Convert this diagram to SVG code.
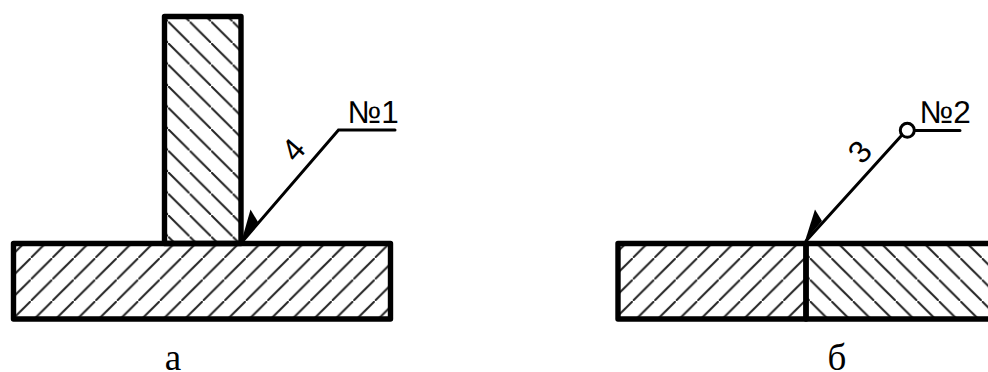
<svg xmlns="http://www.w3.org/2000/svg" width="988" height="372" viewBox="0 0 988 372">
<style>
.o{stroke:#000;stroke-width:5.4;stroke-linejoin:round}
.h{stroke:#222;stroke-width:2;fill:none}
.l{stroke:#000;stroke-width:3;fill:none;stroke-linecap:round}
.t{font-family:"Liberation Sans",Arial,sans-serif;font-size:31.5px;fill:#000}
.c{font-family:"Liberation Serif","Times New Roman",serif;font-size:37px;fill:#000;text-anchor:middle}
.a{fill:#000}
</style>
<defs>
<pattern id="fwd" patternUnits="userSpaceOnUse" x="9.3" y="0" width="21.5" height="21.5"><path class="h" d="M-2 23.5L23.5-2"/></pattern>
<pattern id="back1" patternUnits="userSpaceOnUse" x="17.6" y="0" width="21.5" height="21.5"><path class="h" d="M-2-2L23.5 23.5"/></pattern>
<pattern id="back2" patternUnits="userSpaceOnUse" x="14.3" y="0" width="21.5" height="21.5"><path class="h" d="M-2-2L23.5 23.5"/></pattern>
</defs>
<g id="joint-a-upright"><rect class="o" x="164.5" y="16.5" width="76.5" height="227" fill="url(#back1)"/></g>
<g id="joint-a-base"><rect class="o" x="13.5" y="243.5" width="377" height="75.5" fill="url(#fwd)"/></g>
<g id="joint-b-left"><rect class="o" x="618" y="243.5" width="188" height="75.5" fill="url(#fwd)"/></g>
<g id="joint-b-right"><rect class="o" x="806" y="243.5" width="200" height="75.5" fill="url(#back2)"/></g>
<g id="connectors">
<path class="l" d="M242 242L338.5 130H395"/>
<path class="a" d="M241 243L250.5 209.5L258 222Z"/>
<path class="l" d="M806 241L902 135M914.5 130.5H960"/>
<path class="a" d="M805 241L815 209.5L822 221Z"/>
<circle cx="907.3" cy="130.3" r="7" fill="#fff" stroke="#000" stroke-width="3"/>
</g>
<g id="label-n1"><text class="t" x="347.5" y="122.5">№1</text></g>
<g id="label-n2"><text class="t" x="919.5" y="122.5">№2</text></g>
<g id="label-4"><text class="t" text-anchor="middle" transform="translate(301.5 157) rotate(-49)">4</text></g>
<g id="label-3"><text class="t" text-anchor="middle" transform="translate(868 159) rotate(-49)">3</text></g>
<g id="caption-a"><text class="c" x="173" y="370">а</text></g>
<g id="caption-b"><text class="c" x="837" y="370">б</text></g>
</svg>
